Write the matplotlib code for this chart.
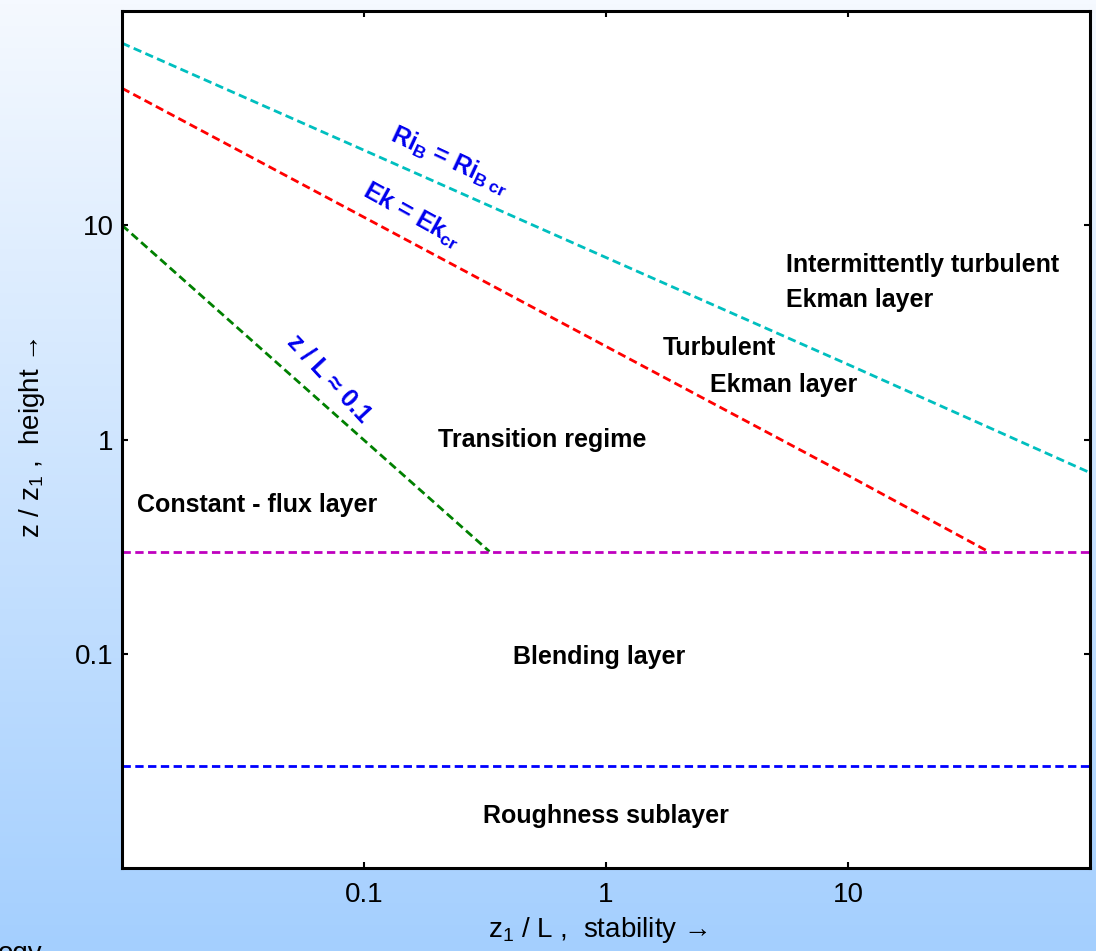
#!/usr/bin/env python3
"""Stable boundary-layer regimes: height vs stability (log-log)."""
import numpy as np
import matplotlib
matplotlib.use("Agg")
import matplotlib.pyplot as plt

plt.rcParams["font.family"] = ["Liberation Sans", "DejaVu Sans"]
plt.rcParams["mathtext.fontset"] = "custom"
plt.rcParams["mathtext.rm"] = "Liberation Sans"
plt.rcParams["mathtext.it"] = "Liberation Sans:italic"
plt.rcParams["mathtext.bf"] = "Liberation Sans:bold"

# boundary lines (x = z1/L, y = z/z1)
ri_x = [0.01, 0.1, 1, 10, 100]
ri_y = [70.8, 22.4, 7.07, 2.24, 0.70]
ek_x = [0.01, 0.1, 1, 10, 38]
ek_y = [43.6, 10.9, 2.72, 0.68, 0.30]
zl_x = [0.01, 0.33]
zl_y = [10, 0.3]
blend_x = [0.01, 100]
blend_y = [0.3, 0.3]
rough_x = [0.01, 100]
rough_y = [0.03, 0.03]

xticks = [0.1, 1, 10]
xticklabels = ["0.1", "1", "10"]
yticks = [0.1, 1, 10]
yticklabels = ["0.1", "1", "10"]

# region labels: (x, y, text, ha)
regions = [
    (5.53, 6.5, "Intermittently turbulent", "left"),
    (5.53, 4.46, "Ekman layer", "left"),
    (1.71, 2.66, "Turbulent", "left"),
    (2.68, 1.79, "Ekman layer", "left"),
    (0.202, 0.99, "Transition regime", "left"),
    (0.0115, 0.497, "Constant - flux layer", "left"),
    (0.94, 0.097, "Blending layer", "center"),
    (1.0, 0.0175, "Roughness sublayer", "center"),
]

W, H = 1096, 951
fig = plt.figure(figsize=(W / 100, H / 100), dpi=100)

# slide background gradient
bg = fig.add_axes([0, 0, 1, 1], zorder=-10)
top = np.array([245, 249, 255]) / 255
bot = np.array([164, 207, 254]) / 255
t = np.linspace(0, 1, 256)[:, None]
grad = top[None, :] * (1 - t) + bot[None, :] * t
bg.imshow(grad[:, None, :], aspect="auto", extent=[0, 1, 0, 1])
bg.axis("off")
fig.text(-0.002, 1 - 941 / H, "ogy", fontsize=20, va="top", ha="left")

ax = fig.add_axes([122 / W, 1 - 868 / H, (1090 - 122) / W, (868 - 11) / H])
ax.set_facecolor("white")
ax.set_xscale("log")
ax.set_yscale("log")
ax.set_xlim(0.01, 100)
ax.set_ylim(0.01, 100)

ls = dict(lw=2.0, dashes=(3.0, 1.6))
ax.plot(ri_x, ri_y, color=(0, 0.75, 0.75), **ls)
ax.plot(ek_x, ek_y, color="red", **ls)
ax.plot(zl_x, zl_y, color=(0, 0.5, 0), **ls)
ax.plot(blend_x, blend_y, color=(0.75, 0, 0.75), **ls)
ax.plot(rough_x, rough_y, color="blue", **ls)

for x, y, s, ha in regions:
    ax.text(x, y, s, fontsize=18, fontweight="bold", ha=ha, va="center")

blue = "#0000ee"
ax.text(0.226, 20.1, r"Ri$_{\mathbf{B}}$ = Ri$_{\mathbf{B\ cr}}$", color=blue,
        fontsize=18, fontweight="bold", rotation=-25, ha="center", va="center",
        rotation_mode="anchor")
ax.text(0.157, 11.1, r"Ek = Ek$_{\mathbf{cr}}$", color=blue, fontsize=18,
        fontweight="bold", rotation=-29, ha="center", va="center",
        rotation_mode="anchor")
ax.text(0.072, 1.93, "z / L ≈ 0.1", color=blue, fontsize=18,
        fontweight="bold", rotation=-47, ha="center", va="center",
        rotation_mode="anchor")

ax.set_xticks(xticks)
ax.set_xticklabels(xticklabels)
ax.set_yticks(yticks)
ax.set_yticklabels(yticklabels)
ax.minorticks_off()
ax.tick_params(which="both", direction="in", top=True, right=True,
               length=4.5, width=1.5, labelsize=20, colors="black")
ax.tick_params(axis="x", pad=10)
ax.tick_params(axis="y", pad=6)
for sp in ax.spines.values():
    sp.set_linewidth(2.2)

fig.text(598 / W, 1 - 930 / H, r"z$_{\rm 1}$ / L ,  stability →", fontsize=20,
         ha="center", va="center")
fig.text(32 / W, 1 - 438 / H, r"z / z$_{\rm 1}$ ,  height →", fontsize=20,
         ha="center", va="center", rotation=90)

fig.savefig("out.png", dpi=100)
